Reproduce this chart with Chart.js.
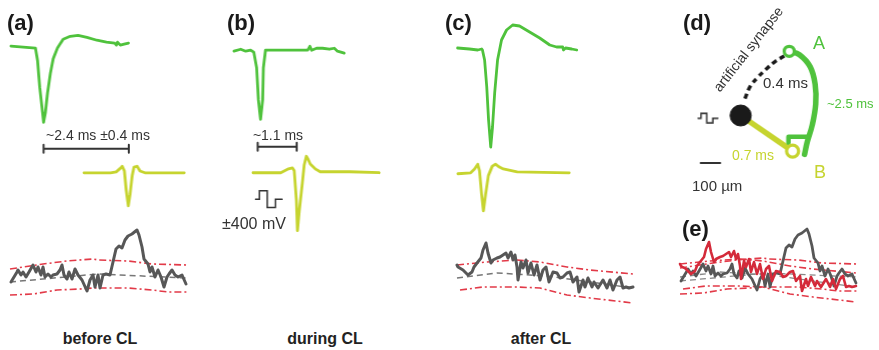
<!DOCTYPE html>
<html>
<head>
<meta charset="utf-8">
<script src="https://cdn.jsdelivr.net/npm/chart.js@4.4.0/dist/chart.umd.min.js"></script>
<style>
body { margin: 0; background: #fff; width: 879px; height: 350px; overflow: hidden; position: relative;
       font-family: "Liberation Sans", Arial, sans-serif; }
.box { position: absolute; }
.lbl { position: absolute; white-space: nowrap; color: #333; line-height: 1; }
.panel { font-weight: bold; font-size: 22px; color: #1a1a1a; }
.cond { font-weight: bold; font-size: 16px; color: #222; }
</style>
</head>
<body>
<script>
// Closed-loop figure: spikes of neuron A (green) and B (yellow), rate traces (gray / red)

const GREEN = '#4fc23c';
const YELLOW = '#c6d42f';
const GRAY = '#575757';
const RED = '#e23a48';
const RED_TRACE = '#d42a3a';
const INK = '#333';
const PX_PER_MS = 36;

// ---- (a) before CL ----
const greenA_t = [0, 0.69, 0.75, 0.81, 0.89, 0.92, 0.97, 1.03, 1.11, 1.19, 1.31, 1.47, 1.67, 1.89, 2.14, 2.42, 2.69, 2.92, 2.97, 3.0, 3.08, 3.19, 3.31];
const greenA_v = [0, -2, -15, -42, -68, -78, -68, -48, -28, -13, -2, 7, 10, 11, 9, 6, 4, 3, 1, 4, 1, 2, 3];
const yellowA_t = [2.03, 2.78, 2.94, 3.06, 3.11, 3.17, 3.22, 3.28, 3.33, 3.39, 3.44, 3.53, 3.61, 3.75, 4.86];
const yellowA_v = [0, 0, 1, 5, 7, 2, -18, -35, -23, -3, 6, 7, 2, 0, 0];
const delayA = { start: 0.92, ms: 2.4 };

const grayA_t = [1, 7, 8, 11, 13, 16, 19, 23, 26, 28, 31, 33, 35, 38, 41, 43, 47, 50, 52, 54, 57, 59, 62, 65, 68, 72, 77, 80, 83, 85,
                 88, 90, 93, 96, 100, 103, 106, 109, 112, 115, 118, 122, 127, 129, 132, 134, 138, 140, 142, 145, 148, 151, 154, 157, 159, 162, 165, 168, 172, 176];
const grayA_v = [-7, 3, 5, 0, 3, -2, 3, 10, 3, 8, 0, 8, -2, 1, -2, 0, 1, 5, 10, 0, -4, 3, -4, 6, 0, -5, -16, -5, 0, -12,
                 0, -13, 0, 1, 0, 13, 26, 29, 27, 35, 39, 41, 45, 40, 28, 16, 11, 3, 8, -2, 5, -2, -12, -2, 1, 5, 0, -2, 0, -9];
const bandA_up_t = [0, 33, 57, 83, 88, 118, 142, 177];
const bandA_up_v = [6, 11, 14, 16, 15, 14, 11, 10];
const bandA_lo_t = [0, 23, 47, 70, 83, 118, 142, 158, 177];
const bandA_lo_v = [-20, -19, -15, -14, -13, -13, -15, -17, -17];
const meanA_t = [0, 88, 177];
const meanA_v = [-7, 1, -3];

// ---- (b) during CL ----
const greenB_t = [0, 0.19, 0.33, 0.47, 0.56, 0.64, 0.69, 0.75, 0.81, 0.83, 0.89, 2.08, 2.14, 2.19, 2.33, 2.5, 2.69, 2.83, 2.92, 3.11];
const greenB_v = [-1, 1, -1, 0, -2, -18, -51, -71, -51, -18, 0, 0, 4, 0, 2, 2, 1, 2, -1, -3];
const yellowB_t = [0.53, 1.31, 1.53, 1.64, 1.69, 1.75, 1.78, 1.83, 1.92, 1.97, 2.03, 2.08, 2.14, 2.28, 2.42, 3.25, 4.08];
const yellowB_v = [0, 0, 4, 5, 2, -28, -60, -40, -10, 8, 17, 14, 9, 4, 1, 1, 0];
const delayB = { start: 0.67, ms: 1.1 };

// biphasic stimulation pulse (ms, mV)
const pulse_t = [0, 0.11, 0.33, 0.56, 0.75];
const pulse_v = [0, 400, -400, 0, 0];

// ---- (c) after CL ----
const greenC_t = [0, 0.33, 0.56, 0.67, 0.69, 0.75, 0.81, 0.86, 0.92, 0.97, 1.03, 1.11, 1.22, 1.36, 1.53, 1.72, 2.0, 2.28, 2.56, 2.75, 2.92, 2.94, 3.0, 3.17, 3.31];
const greenC_v = [1, 0, -1, 0, -1, -11, -38, -71, -98, -78, -44, -11, 9, 19, 24, 23, 17, 11, 4, 2, 2, -1, 1, 0, -1];
const yellowC_t = [-0.03, 0.33, 0.44, 0.53, 0.58, 0.64, 0.69, 0.75, 0.83, 0.94, 1.03, 1.14, 1.25, 1.64, 3.11];
const yellowC_v = [0, 1, 5, 10, 3, -22, -39, -22, -2, 8, 10, 7, 5, 2, 1];

const grayC_t = [0, 1, 6, 11, 15, 17, 20, 24, 26, 29, 31, 34, 36, 40, 43, 46, 49, 51, 54, 56, 58, 60, 61, 64, 66, 69, 71, 74, 77, 80,
                 83, 86, 89, 92, 96, 100, 103, 106, 110, 113, 116, 120, 122, 126, 128, 131, 135, 137, 141, 146, 150, 153, 156, 160, 163, 166, 169, 172, 176];
const grayC_v = [10, 8, 5, 0, 3, 8, 12, 17, 25, 32, 22, 12, 15, 17, 18, 20, 22, 17, 23, 15, 20, 8, -5, 13, 7, 15, 2, 12, 0, 10,
                 -5, 5, 8, -7, 3, 2, -3, -2, 2, 3, -7, -2, -17, -5, -12, -3, -12, -7, -13, -5, -13, -5, -15, -5, -2, -13, -12, -13, -12];
const bandC_up_t = [0, 30, 60, 83, 110, 133, 176];
const bandC_up_v = [10, 13, 15, 13, 8, 5, 1];
const bandC_lo_t = [3, 26, 60, 83, 110, 133, 176];
const bandC_lo_v = [-15, -12, -12, -13, -20, -23, -28];
const meanC_t = [0, 40, 90, 176];
const meanC_v = [-3, 2, -1, -13];

// ---- (d) schematic, in µm relative to the stimulated neuron ----
const nodeStim = [0, 0];
const nodeA = [248, 330];
const nodeB = [265, -183];
const axonA_x = [248, 300, 355, 380, 383, 365, 340, 326];
const axonA_y = [330, 312, 250, 160, 60, -50, -135, -200];
const termA_x = [344, 244, 244];
const termA_y = [-109, -109, -140];
const synapse_x = [22, 48, 87, 131, 174, 218, 236];
const synapse_y = [87, 148, 196, 239, 276, 303, 314];
const scaleBar_um = 100;

function xy(t, v) {
    return t.map((x, i) => ({ x: x, y: v[i] }));
}

function line(t, v, color, width, dash) {
    return {
        data: xy(t, v), showLine: true, borderColor: color, borderWidth: width,
        borderDash: dash || [], pointRadius: 0, tension: 0, fill: false, clip: false,
        borderJoinStyle: 'round', borderCapStyle: dash ? 'butt' : 'round'
    };
}

function curve(t, v, color, width, dash) {
    const ds = line(t, v, color, width, dash);
    ds.tension = 0.4;
    return ds;
}

function band(ut, uv, lt, lv) {
    return [line(ut, uv, RED, 1.6, [7, 3, 2, 3]), line(lt, lv, RED, 1.6, [7, 3, 2, 3])];
}

// origin: pixel of data (0,0); sx/sy: pixels per unit; datasets listed bottom to top
function place(origin, sx, sy, xr, yr, datasets) {
    const div = document.createElement('div');
    div.className = 'box';
    div.style.left = (origin[0] + xr[0] * sx) + 'px';
    div.style.top = (origin[1] - yr[1] * sy) + 'px';
    div.style.width = ((xr[1] - xr[0]) * sx) + 'px';
    div.style.height = ((yr[1] - yr[0]) * sy) + 'px';
    const canvas = document.createElement('canvas');
    div.appendChild(canvas);
    document.body.appendChild(div);
    new Chart(canvas, {
        type: 'scatter',
        data: { datasets: datasets.slice().reverse() },
        options: {
            responsive: true,
            maintainAspectRatio: false,
            animation: false,
            events: [],
            layout: { padding: 0 },
            plugins: { legend: { display: false }, tooltip: { enabled: false } },
            scales: {
                x: { type: 'linear', display: false, min: xr[0], max: xr[1] },
                y: { type: 'linear', display: false, min: yr[0], max: yr[1] }
            }
        }
    });
}

function scaleBar(start, len, level, tick) {
    const e = start + len;
    return line([start, start, start, e, e, e], [level + tick, level - tick, level, level, level + tick, level - tick], INK, 2);
}

function pulse(origin, sx, sy) {
    const ds = line(pulse_t, pulse_v, INK, 1.5);
    ds.stepped = true;
    ds.borderJoinStyle = 'miter';
    place(origin, sx, sy, [-0.05, 0.8], [-450, 450], [ds]);
}

function label(text, x, y, cls, style, center) {
    const d = document.createElement('div');
    d.className = 'lbl ' + (cls || '');
    d.textContent = text;
    d.style.left = x + 'px';
    d.style.top = y + 'px';
    d.style.transform = center ? 'translate(-50%, -50%)' : 'translateY(-50%)';
    Object.assign(d.style, style || {});
    document.body.appendChild(d);
    return d;
}

// (a)
place([10, 45], PX_PER_MS, 1, [-0.1, 3.45], [-112, 14], [
    line(greenA_t, greenA_v, GREEN, 2.8),
    scaleBar(delayA.start, delayA.ms, -105, 4)
]);
place([10, 172], PX_PER_MS, 1, [1.9, 4.95], [-38, 10], [line(yellowA_t, yellowA_v, YELLOW, 2.8)]);
place([10, 275], 1, 1, [-2, 180], [-32, 48], [
    ...band(bandA_up_t, bandA_up_v, bandA_lo_t, bandA_lo_v),
    line(meanA_t, meanA_v, '#777', 1.5, [6, 4]),
    line(grayA_t, grayA_v, GRAY, 3)
]);

// (b)
place([233, 49], PX_PER_MS, 1, [-0.1, 3.2], [-105, 8], [
    line(greenB_t, greenB_v, GREEN, 2.8),
    scaleBar(delayB.start, delayB.ms, -99, 4)
]);
place([233, 172], PX_PER_MS, 1, [0.4, 4.2], [-63, 20], [line(yellowB_t, yellowB_v, YELLOW, 2.8)]);
pulse([255, 199], PX_PER_MS, 9 / 400);

// (c)
place([458, 49], PX_PER_MS, 1, [-0.1, 3.4], [-102, 28], [line(greenC_t, greenC_v, GREEN, 2.8)]);
place([458, 173], PX_PER_MS, 1, [-0.1, 3.2], [-42, 13], [line(yellowC_t, yellowC_v, YELLOW, 2.8)]);
place([457, 275], 1, 1, [-2, 180], [-32, 36], [
    ...band(bandC_up_t, bandC_up_v, bandC_lo_t, bandC_lo_v),
    line(meanC_t, meanC_v, '#777', 1.5, [6, 4]),
    line(grayC_t, grayC_v, GRAY, 3)
]);

// (e) overlay of before (gray) and after (red)
place([680, 274], 1, 1, [-2, 180], [-32, 48], [
    ...band(bandA_up_t, bandA_up_v, bandA_lo_t, bandA_lo_v),
    ...band(bandC_up_t, bandC_up_v, bandC_lo_t, bandC_lo_v),
    line(meanA_t, meanA_v, '#888', 1.3, [6, 4]),
    line(meanC_t, meanC_v, '#888', 1.3, [6, 4]),
    line(grayA_t, grayA_v, GRAY, 2.8),
    line(grayC_t, grayC_v, RED_TRACE, 2.6)
]);

// (d) schematic
const UM = 0.23;
function node(p, r, fill, stroke, bw) {
    return { data: [{ x: p[0], y: p[1] }], pointRadius: r, pointBackgroundColor: fill,
             pointBorderColor: stroke, pointBorderWidth: bw, showLine: false, clip: false };
}
place([737, 117], UM, UM, [-230, 420], [-280, 370], [
    line([nodeStim[0], nodeB[0]], [nodeStim[1], nodeB[1]], YELLOW, 5.5),
    curve(axonA_x, axonA_y, GREEN, 5.5),
    line(termA_x, termA_y, GREEN, 4.5),
    curve(synapse_x, synapse_y, '#1a1a1a', 3.5, [5, 4]),
    line([-204, -204 + scaleBar_um], [-244, -244], INK, 2),
    node(nodeStim, 10.5, '#1a1a1a', '#1a1a1a', 1),
    node(nodeA, 5, '#fff', GREEN, 3.2),
    node(nodeB, 6, '#fff', YELLOW, 3.2)
]);
pulse([697, 118], 27, 5 / 400);

// text
label('(a)', 7, 23, 'panel');
label('(b)', 227, 23, 'panel');
label('(c)', 445, 23, 'panel');
label('(d)', 683, 23, 'panel');
label('(e)', 682, 229, 'panel');

label('~2.4 ms \u00b10.4 ms', 98, 135, '', { fontSize: '14px' }, true);
label('~1.1 ms', 278, 135, '', { fontSize: '14px' }, true);
label('\u00b1400 mV', 222, 224, '', { fontSize: '16px' });

label('before CL', 100, 339, 'cond', {}, true);
label('during CL', 325, 339, 'cond', {}, true);
label('after CL', 541, 339, 'cond', {}, true);

label('A', 813, 43, '', { fontSize: '18px', color: GREEN });
label('B', 814, 172, '', { fontSize: '18px', color: YELLOW });
label('0.4 ms', 763, 82, '', { fontSize: '15px' });
label('~2.5 ms', 827, 103, '', { fontSize: '13px', color: GREEN });
label('0.7 ms', 732, 155, '', { fontSize: '14px', color: YELLOW });
label('100 \u00b5m', 692, 185, '', { fontSize: '15px' });
label('artificial synapse', 748, 49, '', { fontSize: '14px', transform: 'translate(-50%, -50%) rotate(-52deg)' });
</script>
</body>
</html>
